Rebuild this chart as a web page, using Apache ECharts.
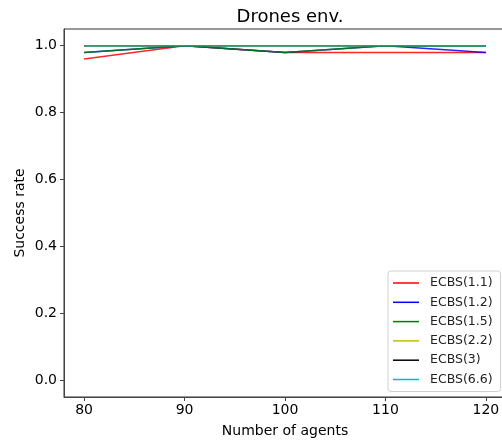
<!DOCTYPE html>
<html>
<head>
<meta charset="utf-8">
<script src="https://cdn.jsdelivr.net/npm/echarts@6/dist/echarts.min.js"></script>
<style>
html,body{margin:0;padding:0;background:#fff;}
#chart{width:502px;height:442px;}
</style>
</head>
<body>
<div id="chart"></div>
<script>
var agents = [80, 90, 100, 110, 120];
var ecbs11 = [0.96, 1.0, 0.98, 0.98, 0.98];
var ecbs12 = [0.98, 1.0, 0.98, 1.0, 0.98];
var ecbs15 = [0.98, 1.0, 0.98, 1.0, 1.0];
var ecbs22 = [1.0, 1.0, 1.0, 1.0, 1.0];
var ecbs3 = [1.0, 1.0, 1.0, 1.0, 1.0];
var ecbs66 = [1.0, 1.0, 1.0, 1.0, 1.0];
var seriesNames = ['ECBS(1.1)', 'ECBS(1.2)', 'ECBS(1.5)', 'ECBS(2.2)', 'ECBS(3)', 'ECBS(6.6)'];
var seriesColors = ['#ff0000', '#0000ff', '#008000', '#bfbf00', '#000000', '#00bfbf'];
var yTicks = [0, 0.2, 0.4, 0.6, 0.8, 1.0];
var xTicks = [80, 90, 100, 110, 120];

var allData = [ecbs11, ecbs12, ecbs15, ecbs22, ecbs3, ecbs66];
var font = 'DejaVu Sans';
var series = allData.map(function (vals, i) {
  return {
    name: seriesNames[i],
    type: 'line',
    symbol: 'none',
    animation: false,
    data: agents.map(function (a, j) { return [a, vals[j]]; }),
    lineStyle: { color: seriesColors[i], width: 1.5, opacity: 0.85 },
    itemStyle: { color: seriesColors[i] }
  };
});

var chart = echarts.init(document.getElementById('chart'), null, { renderer: 'canvas' });
chart.setOption({
  backgroundColor: '#fff',
  animation: false,
  title: {
    text: 'Drones env.',
    left: 285, top: 3, textAlign: 'center',
    textStyle: { fontFamily: font, fontSize: 18, fontWeight: 'normal', color: '#000' }
  },
  grid: { left: 64, top: 29, width: 442, height: 368, containLabel: false, outerBoundsMode: 'none' },
  legend: {
    orient: 'vertical',
    left: 388, top: 271,
    icon: 'rect',
    itemWidth: 26, itemHeight: 1.5, itemGap: 5.3,
    padding: [5, 8, 5, 5],
    backgroundColor: '#fff',
    borderColor: '#d0d0d0', borderWidth: 1, borderRadius: 3,
    textStyle: { fontFamily: font, fontSize: 12.5, color: '#222', lineHeight: 14, padding: [0, 0, 0, 6] },
    data: seriesNames
  },
  xAxis: {
    type: 'value', min: 78, max: 122,
    name: 'Number of agents', nameLocation: 'middle', nameGap: 27, nameMoveOverlap: false,
    nameTextStyle: { fontFamily: font, fontSize: 14, color: '#000' },
    axisLine: { show: true, onZero: false, lineStyle: { color: '#444', width: 1 } },
    axisTick: { show: true, length: 4, customValues: xTicks, lineStyle: { color: '#444' } },
    axisLabel: { customValues: xTicks, fontFamily: font, fontSize: 14, color: '#000', margin: 6 },
    splitLine: { show: false }
  },
  yAxis: {
    type: 'value', min: -0.05, max: 1.05,
    name: 'Success rate', nameLocation: 'middle', nameGap: 37, nameMoveOverlap: false,
    nameTextStyle: { fontFamily: font, fontSize: 14, color: '#000' },
    axisLine: { show: true, onZero: false, lineStyle: { color: '#444', width: 1 } },
    axisTick: { show: true, length: 4, customValues: yTicks, lineStyle: { color: '#444' } },
    axisLabel: {
      customValues: yTicks, fontFamily: font, fontSize: 14, color: '#000', margin: 7,
      formatter: function (v) { return v.toFixed(1); }
    },
    splitLine: { show: false }
  },
  graphic: [{
    type: 'rect', shape: { x: 64, y: 29, width: 442, height: 368 },
    style: { fill: null, stroke: '#333', lineWidth: 1 }, silent: true, z: 0
  }],
  series: series
});
</script>
</body>
</html>
